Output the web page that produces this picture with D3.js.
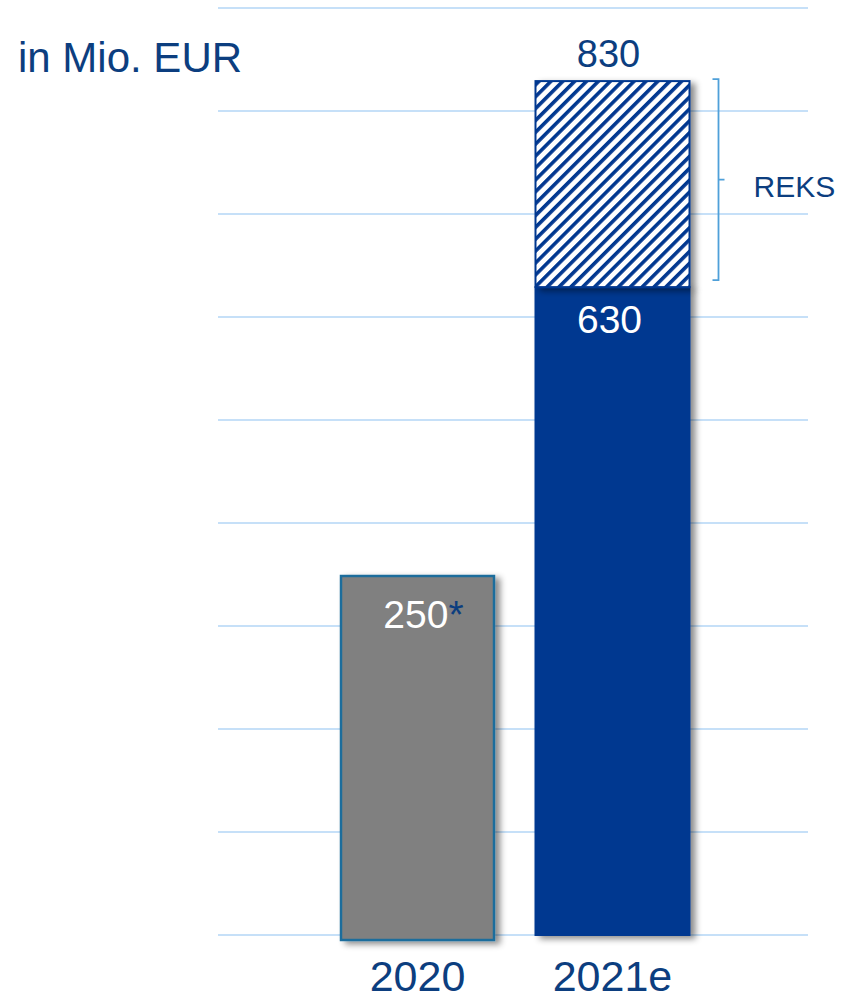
<!DOCTYPE html>
<meta charset="UTF-8">
<title>in Mio. EUR</title>
<style>
  body { margin: 0; background: #fff; }
  text { font-family: "Liberation Sans", Arial, sans-serif; }
</style>
<svg width="843" height="1000"></svg>
<script src="https://cdnjs.cloudflare.com/ajax/libs/d3/7.8.5/d3.min.js"></script>
<script>
// values
var categories = ["2020", "2021e"];
var barValues = [350, 630];        // drawn height of the solid bar (2020 is drawn taller than its label)
var barLabels = ["250", "630"];
var barStars = ["*", ""];
var reksValues = [0, 200];         // hatched REKS add-on on top
var totalLabels = ["", "830"];
var gridTicks = [0, 100, 200, 300, 400, 500, 600, 700, 800, 900];
var unitLabel = "in Mio. EUR";
var reksLabel = "REKS";

var navy = "#0c3e7f",
    barBlue = "#053890",
    grey = "#808080",
    gridColor = "#c6e0f8",
    bracketColor = "#4fa0d9";

var svg = d3.select("svg");

var y = d3.scaleLinear().domain([0, 900]).range([935, 8]);
var x = d3.scaleBand().domain(categories).range([320, 710])
    .paddingInner(0.2).paddingOuter(0.1);

var defs = svg.append("defs");

var shadow = defs.append("filter").attr("id", "shadow")
    .attr("x", "-10%").attr("y", "-10%").attr("width", "130%").attr("height", "130%");
shadow.append("feDropShadow")
    .attr("dx", 5).attr("dy", 3).attr("stdDeviation", 3)
    .attr("flood-color", "#000").attr("flood-opacity", 0.45);

var hatch = defs.append("pattern").attr("id", "hatch")
    .attr("patternUnits", "userSpaceOnUse")
    .attr("width", 8.4).attr("height", 8.4)
    .attr("patternTransform", "rotate(45)");
hatch.append("rect").attr("width", 8.4).attr("height", 8.4).attr("fill", "#fff");
hatch.append("rect").attr("width", 3.6).attr("height", 8.4).attr("fill", barBlue);

// grid
svg.append("g").selectAll("line")
  .data(gridTicks)
  .join("line")
    .attr("x1", 218).attr("x2", 808)
    .attr("y1", function(d) { return y(d); })
    .attr("y2", function(d) { return y(d); })
    .attr("stroke", gridColor)
    .attr("stroke-width", 2);

var data = categories.map(function(c, i) {
  return {cat: c, value: barValues[i], label: barLabels[i], star: barStars[i],
          reks: reksValues[i], total: totalLabels[i], i: i};
});

// solid bars
svg.append("g").selectAll("rect")
  .data(data)
  .join("rect")
    .attr("x", function(d) { return x(d.cat) + (d.i == 0 ? 1.5 : 0); })
    .attr("width", function(d) { return x.bandwidth() - (d.i == 0 ? 3 : 0); })
    .attr("y", function(d) { return y(d.value) + (d.i == 0 ? 1.5 : 0); })
    .attr("height", function(d) { return y(0) - y(d.value) + (d.i == 0 ? 3.5 : 1); })
    .attr("fill", function(d) { return d.i == 0 ? grey : barBlue; })
    .attr("stroke", function(d) { return d.i == 0 ? "#1f6d9c" : "none"; })
    .attr("stroke-width", 2.5)
    .attr("filter", "url(#shadow)");

// hatched REKS part
var reksData = data.filter(function(d) { return d.reks > 0; });
svg.append("g").selectAll("rect")
  .data(reksData)
  .join("rect")
    .attr("x", function(d) { return x(d.cat) + 1; })
    .attr("width", x.bandwidth() - 2)
    .attr("y", function(d) { return y(d.value + d.reks) + 1; })
    .attr("height", function(d) { return y(d.value) - y(d.value + d.reks); })
    .attr("fill", "url(#hatch)")
    .attr("stroke", barBlue)
    .attr("stroke-width", 2)
    .attr("filter", "url(#shadow)");

// labels inside bars
var inner = svg.append("g").selectAll("text")
  .data(data)
  .join("text")
    .attr("x", function(d) { return x(d.cat) + x.bandwidth() / 2 + (d.i == 0 ? 6 : -3); })
    .attr("y", function(d) { return y(d.value) + (d.i == 0 ? 53 : 47); })
    .attr("text-anchor", "middle")
    .attr("font-size", 39)
    .attr("fill", "#fff");
inner.append("tspan").text(function(d) { return d.label; });
inner.append("tspan").attr("fill", navy).text(function(d) { return d.star; });

// totals above
svg.append("g").selectAll("text")
  .data(reksData)
  .join("text")
    .attr("x", function(d) { return x(d.cat) + x.bandwidth() / 2 - 4; })
    .attr("y", function(d) { return y(d.value + d.reks) - 13; })
    .attr("text-anchor", "middle")
    .attr("font-size", 38)
    .attr("fill", navy)
    .text(function(d) { return d.total; });

// category labels
svg.append("g").selectAll("text")
  .data(categories)
  .join("text")
    .attr("x", function(d) { return x(d) + x.bandwidth() / 2; })
    .attr("y", 991)
    .attr("text-anchor", "middle")
    .attr("font-size", 43)
    .attr("fill", navy)
    .text(function(d) { return d; });

// REKS bracket
reksData.forEach(function(d) {
  var top = y(d.value + d.reks) - 1,
      bot = y(d.value) - 6,
      bx = x(d.cat) + x.bandwidth() + 28,
      mid = (top + bot) / 2;
  svg.append("path")
      .attr("d", "M" + (bx - 6) + "," + top + "H" + bx + "V" + bot + "H" + (bx - 6)
        + "M" + bx + "," + mid + "H" + (bx + 6))
      .attr("fill", "none")
      .attr("stroke", bracketColor)
      .attr("stroke-width", 1.8);
  svg.append("text")
      .attr("x", bx + 35)
      .attr("y", mid + 17)
      .attr("font-size", 30)
      .attr("fill", navy)
      .text(reksLabel);
});

svg.append("text")
    .attr("x", 18).attr("y", 72)
    .attr("font-size", 42)
    .attr("fill", navy)
    .text(unitLabel);
</script>
